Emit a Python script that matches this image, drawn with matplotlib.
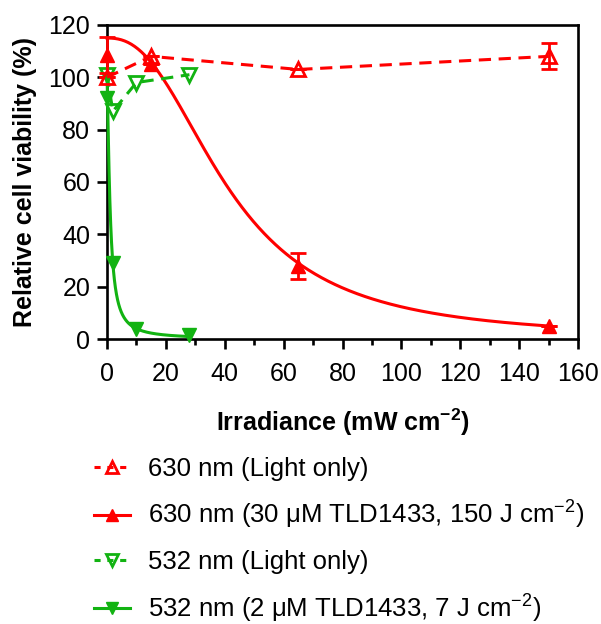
import numpy as np
import matplotlib
matplotlib.use("Agg")
import matplotlib.pyplot as plt
from matplotlib.ticker import MultipleLocator
from matplotlib.lines import Line2D

plt.rcParams['font.family'] = ['Liberation Sans', 'DejaVu Sans']
plt.rcParams['mathtext.fontset'] = 'custom'
plt.rcParams['mathtext.rm'] = 'Liberation Sans'
plt.rcParams['mathtext.it'] = 'Liberation Sans:italic'
plt.rcParams['mathtext.bf'] = 'Liberation Sans:bold'

RED = '#FF0000'
GREEN = '#12B312'

# 630 nm, light only
x_630_light = [0, 15, 65, 150]
y_630_light = [100, 108, 103, 108]
e_630_light = [0, 0, 0, 5]

# 630 nm, 30 uM TLD1433
x_630_drug = [0, 15, 65, 150]
y_630_drug = [108.5, 105, 28, 5]
e_630_drug = [7, 0, 5, 0]
fit_630 = dict(top=115.0, bottom=0.0, ec50=41.3, hill=2.4)

# 532 nm, light only
x_532_light = [0, 2, 10, 28]
y_532_light = [101, 87, 98, 101]

# 532 nm, 2 uM TLD1433
x_532_drug = [0, 2, 10, 28]
y_532_drug = [92, 29, 4, 1.5]
fit_532 = dict(top=100.0, bottom=0.0, ec50=1.06, hill=1.42)

labels = ['630 nm (Light only)',
          r'630 nm (30 $\mathrm{\mu}$M TLD1433, 150 J cm$^{-2}$)',
          '532 nm (Light only)',
          r'532 nm (2 $\mathrm{\mu}$M TLD1433, 7 J cm$^{-2}$)']


def hill(x, p):
    return p['bottom'] + (p['top'] - p['bottom']) / (1 + (x / p['ec50']) ** p['hill'])


fig = plt.figure(figsize=(6.01, 6.24), dpi=100)
ax = fig.add_axes([0.178, 0.4567, 0.784, 0.5033])

lw = 2.2
ms = 10.5
dash = (4, 2.5)

# 630 nm light only (dashed, open up triangle)
ax.errorbar(x_630_light, y_630_light, yerr=e_630_light, color=RED, lw=lw,
            ls='--', dashes=dash, marker='^', ms=ms, mfc='none', mec=RED, mew=2,
            capsize=6, capthick=2, elinewidth=2, clip_on=False, zorder=3)

# 630 nm drug: fitted curve + filled up triangle
xf = np.linspace(0, 150, 400)
ax.plot(xf, hill(xf, fit_630), color=RED, lw=lw, clip_on=False, zorder=3)
ax.errorbar(x_630_drug, y_630_drug, yerr=e_630_drug, color=RED, ls='none',
            marker='^', ms=ms, mfc=RED, mec=RED, capsize=6, capthick=2,
            elinewidth=2, clip_on=False, zorder=4)

# 532 nm light only (dashed, open down triangle)
ax.plot(x_532_light, y_532_light, color=GREEN, lw=lw, ls='--', dashes=dash,
        marker='v', ms=ms, mfc='none', mec=GREEN, mew=2, clip_on=False, zorder=3)

# 532 nm drug: fitted curve + filled down triangle
xg = np.linspace(0, 28, 600)
ax.plot(xg, hill(xg, fit_532), color=GREEN, lw=lw, clip_on=False, zorder=3)
ax.plot(x_532_drug, y_532_drug, color=GREEN, ls='none', marker='v', ms=ms,
        mfc=GREEN, mec=GREEN, clip_on=False, zorder=4)

ax.set_xlim(0, 160)
ax.set_ylim(0, 120)
ax.xaxis.set_major_locator(MultipleLocator(20))
ax.xaxis.set_minor_locator(MultipleLocator(10))
ax.yaxis.set_major_locator(MultipleLocator(20))

for s in ax.spines.values():
    s.set_linewidth(1.9)
ax.tick_params(which='major', direction='out', length=7.5, width=1.9,
               labelsize=18)
ax.tick_params(axis='x', which='major', pad=9)
ax.tick_params(axis='y', which='major', pad=4.5)
ax.tick_params(which='minor', direction='out', length=4, width=1.9)

ax.set_xlabel(r'Irradiance (mW cm$^{\mathbf{-2}}$)', fontsize=18,
              fontweight='bold', labelpad=15)
ax.set_ylabel('Relative cell viability (%)', fontsize=18, fontweight='bold',
              labelpad=8)

# legend handles
lms = 9
handles = [
    Line2D([], [], color=RED, lw=lw, ls='--', dashes=(2, 2.2), marker='^', ms=lms,
           mfc='none', mec=RED, mew=2),
    Line2D([], [], color=RED, lw=lw, marker='^', ms=lms, mfc=RED, mec=RED),
    Line2D([], [], color=GREEN, lw=lw, ls='--', dashes=(2, 2.2), marker='v', ms=lms,
           mfc='none', mec=GREEN, mew=2),
    Line2D([], [], color=GREEN, lw=lw, marker='v', ms=lms, mfc=GREEN, mec=GREEN),
]
fig.legend(handles, labels, loc='upper left', bbox_to_anchor=(0.157, 0.268),
           frameon=False, fontsize=18.5, handlelength=1.4, handletextpad=0.7,
           labelspacing=0.72, borderaxespad=0, borderpad=0)

fig.savefig('out.png', dpi=100)
